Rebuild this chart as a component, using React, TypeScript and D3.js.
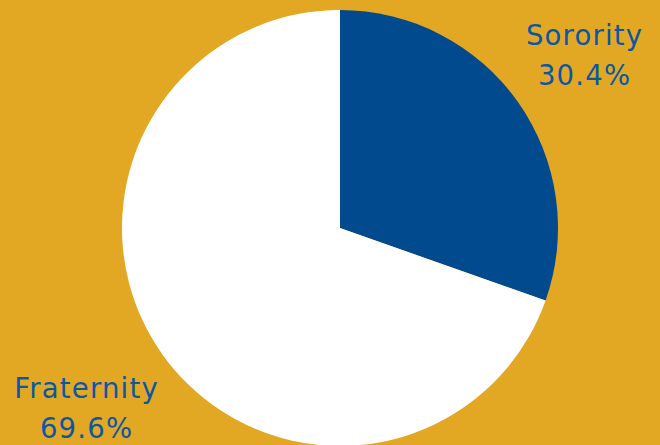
import React from "react";
import * as d3 from "d3";

const categories = ["Sorority", "Fraternity"];
const values = [30.4, 69.6];
const labels = ["30.4%", "69.6%"];
const colors = ["#004A8D", "#FFFFFF"];

const W = 660;
const H = 445;
const cx = 340;
const cy = 228;
const R = 218;

export default function App() {
  const pie = d3.pie<number>().sort(null).value((d) => d);
  const arcs = pie(values);
  const arc = d3.arc<d3.PieArcDatum<number>>().innerRadius(0).outerRadius(R);
  const labelPos = [
    { x: 584.6, y: 45 },
    { x: 86.6, y: 398 },
  ];
  return (
    <svg
      width={W}
      height={H}
      style={{ position: "absolute", left: 0, top: 0, display: "block" }}
    >
      <rect x={0} y={0} width={W} height={H} fill="#E3A823" />
      <g transform={`translate(${cx},${cy})`}>
        {arcs.map((a, i) => (
          <path key={i} d={arc(a) || ""} fill={colors[i]} />
        ))}
      </g>
      {categories.map((c, i) => (
        <text
          key={c}
          x={labelPos[i].x}
          y={labelPos[i].y}
          textAnchor="middle"
          fontFamily="'DejaVu Sans', sans-serif"
          fontSize={27.5}
          letterSpacing={1.2}
          fill="#0B57A6"
        >
          <tspan x={labelPos[i].x} dy={0}>{c}</tspan>
          <tspan x={labelPos[i].x} dy={39.5}>{labels[i]}</tspan>
        </text>
      ))}
    </svg>
  );
}
